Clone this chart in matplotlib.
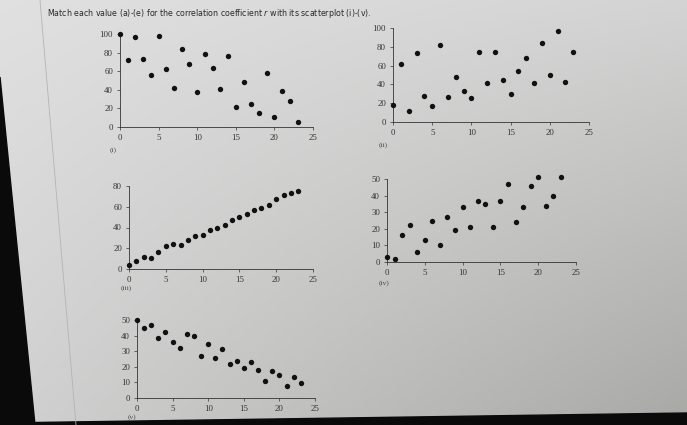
import numpy as np
import matplotlib.pyplot as plt
from matplotlib.patches import Polygon

# x positions shared by all five scatterplots
x_vals = np.arange(24)

y_i = [100, 72, 97, 73, 56, 98, 62, 42, 84, 68, 38, 78,
       63, 41, 76, 22, 48, 25, 15, 58, 11, 39, 28, 5]
y_ii = [18, 62, 12, 73, 28, 17, 82, 27, 48, 33, 26, 74,
        41, 74, 45, 30, 54, 68, 41, 84, 50, 97, 43, 75]
y_iii = [4, 8, 12, 11, 16, 22, 24, 23, 28, 32, 33, 38,
         40, 42, 47, 50, 53, 57, 59, 62, 67, 71, 73, 75]
y_iv = [3, 2, 16, 22, 6, 13, 25, 10, 27, 19, 33, 21,
        37, 35, 21, 37, 47, 24, 33, 46, 51, 34, 40, 51]
y_v = [50, 45, 46.5, 38.5, 42.5, 36, 32, 41, 40, 27, 34.5, 25.5,
       31.5, 21.5, 24, 19, 23, 18, 11, 17.5, 14.5, 7.5, 13.5, 9.5]

panels = [
    # (y values, y max, y ticks, label, label x, label y, left, right, bottom, top) in pixels
    (y_i, 100, [0, 20, 40, 60, 80, 100], "(i)", 110, 150, 120, 313, 127, 34),
    (y_ii, 100, [0, 20, 40, 60, 80, 100], "(ii)", 379, 145, 393, 589, 122, 28),
    (y_iii, 80, [0, 20, 40, 60, 80], "(iii)", 121, 288, 129, 313, 269, 186),
    (y_iv, 50, [0, 10, 20, 30, 40, 50], "(iv)", 379, 283, 387, 576, 262, 179),
    (y_v, 50, [0, 10, 20, 30, 40, 50], "(v)", 128, 417, 137, 315, 398, 320),
]
x_ticks = [0, 5, 10, 15, 20, 25]

W, H = 687, 425
fig = plt.figure(figsize=(W / 100, H / 100), dpi=100)

# photographed screen background
bg = fig.add_axes([0, 0, 1, 1])
bg.set_xlim(0, W)
bg.set_ylim(H, 0)
bg.axis("off")
u = np.linspace(0, 1, 200)[None, :, None]
v = np.linspace(0, 1, 120)[:, None, None]
c_tl = np.array([0.88, 0.88, 0.88])
c_tr = np.array([0.83, 0.83, 0.83])
c_bl = np.array([0.82, 0.82, 0.82])
c_br = np.array([0.66, 0.66, 0.65])
grad = ((1 - u) * (1 - v) * c_tl + u * (1 - v) * c_tr
        + (1 - u) * v * c_bl + u * v * c_br)
bg.imshow(grad, extent=[0, W, H, 0], aspect="auto", zorder=0)
bg.add_patch(Polygon([[0, 77], [35, 425], [0, 425]], closed=True,
                     color="#0a0a0a", zorder=1))
bg.add_patch(Polygon([[0, 423], [W, 413], [W, H], [0, H]], closed=True,
                     color="#0a0a0a", zorder=1))
bg.plot([40, 76], [0, 425], color="#b4b4b4", lw=0.6, zorder=1)
bg.text(47, 13, "Match each value (a)-(e) for the correlation coefficient $r$ "
        "with its scatterplot (i)-(v).", fontsize=5.7, color="#2a2a2a",
        va="center", ha="left", family="DejaVu Sans")

for yv, ymax, yt, lab, lx, ly, l, r, b, t in panels:
    ax = fig.add_axes([l / W, (H - b) / H, (r - l) / W, (b - t) / H])
    ax.patch.set_visible(False)
    ax.scatter(x_vals, yv, s=15, color="#111111", clip_on=False, zorder=3,
               linewidths=0)
    ax.set_xlim(0, 25)
    ax.set_ylim(0, ymax)
    ax.set_xticks(x_ticks)
    ax.set_yticks(yt)
    ax.spines['right'].set_visible(False)
    ax.spines['top'].set_visible(False)
    for s in ['left', 'bottom']:
        ax.spines[s].set_linewidth(0.6)
        ax.spines[s].set_color("#333333")
    ax.tick_params(length=2.5, width=0.5, color="#333333", pad=2.5,
                   labelsize=6.3, labelcolor="#333333")
    for tl in ax.get_xticklabels() + ax.get_yticklabels():
        tl.set_family("Liberation Serif")
    bg.text(lx, ly, lab, fontsize=5.3, color="#444444",
            family="Liberation Serif", ha="left", va="center")

fig.savefig("out.png", dpi=100)
